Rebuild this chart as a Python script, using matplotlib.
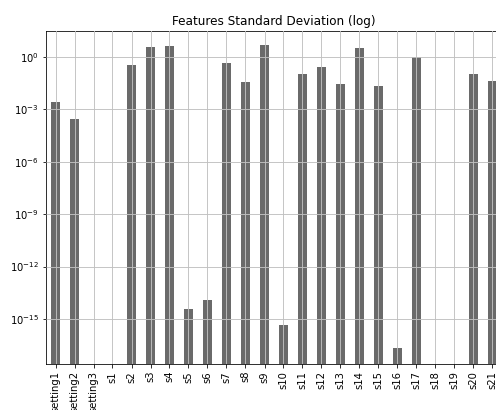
import numpy as np
import matplotlib.pyplot as plt

features = ['setting1', 'setting2', 'setting3'] + ['s%d' % i for i in range(1, 22)]
std_vals = [2.6e-3, 2.6e-4, 0.0, 0.0, 0.32, 3.5, 4.2, 3.8e-15, 1.26e-14, 0.42,
            0.035, 4.9, 4.7e-16, 0.11, 0.25, 0.029, 3.1, 0.022, 2.2e-17, 0.96,
            0.0, 0.0, 0.1, 0.04]

W, H = 496, 410
fig = plt.figure(figsize=(W/72, H/72), dpi=72)
# axes runs a bit past the right edge of the figure (cropped like the original)
ax = fig.add_axes([46/W, (H-364)/H, (502-46)/W, (364-30.7)/H])

x = np.arange(len(features))
ax.bar(x, std_vals, width=0.5, color='#6a6a6a', log=True)
ax.set_yscale('log')
ax.set_xlim(-0.5, len(features)-0.5)
ax.set_ylim(10**-17.57, 10**1.49)
ax.set_yticks([1e0, 1e-3, 1e-6, 1e-9, 1e-12, 1e-15])
ax.minorticks_off()
ax.set_xticks(x)
ax.set_xticklabels(features, rotation=90)
ax.grid(True, color='#c0c0c0', linewidth=0.9)
ax.set_axisbelow(False)
ax.set_title('Features Standard Deviation (log)')

fig.savefig('out.png', dpi=72)
